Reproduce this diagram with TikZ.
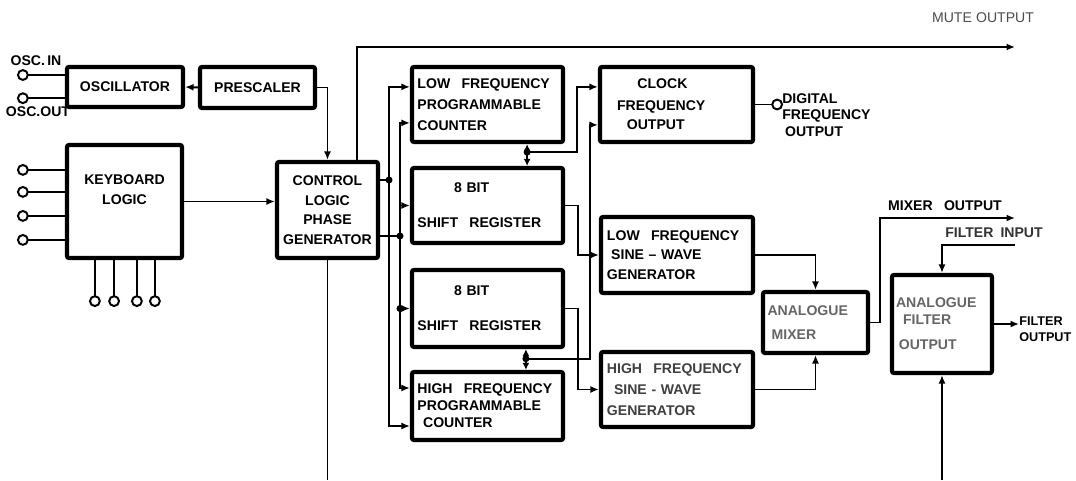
\documentclass[tikz,border=0pt]{standalone}
\usepackage{fontspec}
\setmainfont{Liberation Sans}
\usetikzlibrary{arrows.meta, positioning, calc}

\begin{document}
\begin{tikzpicture}[
  x=0.025cm, y=-0.025cm,
  box/.style={rectangle, rounded corners=1.5pt, draw=black, line width=3pt,
              fill=white, inner sep=2pt, font=\bfseries},
  wide/.style={box, minimum width=3.775cm, text width=3.5cm, align=left},
  line/.style={line width=1.4pt, black},
  arr/.style={line, -{Latex[length=6pt, width=5pt]}},
  biarr/.style={line, {Latex[length=5pt, width=5pt]}-{Latex[length=5pt, width=5pt]}},
  dot/.style={circle, fill=black, inner sep=0pt, minimum size=5pt},
  term/.style={circle, draw=black, fill=white, line width=1.4pt, inner sep=0pt, minimum size=7pt},
  lbl/.style={font=\bfseries, inner sep=0pt},
  faded/.style={text=black!60}
]
\useasboundingbox[fill=white] (0,0) rectangle (1076,480);

% input stage
\node[box, minimum width=2.9cm, minimum height=1cm] (osc) at (125,87) {OSCILLATOR};
\node[box, minimum width=2.875cm, minimum height=1.025cm] (pre) at (257.5,87.5) {PRESCALER\hspace{0.8em}};
\node[box, minimum width=2.875cm, minimum height=2.825cm] (kbd) at (124.5,201.5) {};
\node[lbl, align=center] (kbdtxt) at ([yshift=0.3cm]kbd.center) {KEYBOARD\\[2pt]LOGIC};
\node[box, minimum width=2.525cm, minimum height=2.4cm, align=center] (ctl) at (327.5,210)
  {CONTROL\\[2pt]LOGIC\\[2pt]PHASE\\[2pt]GENERATOR};

% counters and registers
\node[wide, minimum height=1.875cm] (lfc) at (487.5,104.5)
  {LOW\hspace{0.8em}FREQUENCY\\[3pt]PROGRAMMABLE\\[3pt]COUNTER};
\node[wide, minimum height=1.875cm] (sr1) at (487.5,205.5)
  {\hspace{2.6em}8 BIT\\[13pt]SHIFT\hspace{0.8em}REGISTER};
\node[wide, minimum height=1.925cm] (sr2) at (487.5,308.5)
  {\hspace{2.6em}8 BIT\\[13pt]SHIFT\hspace{0.8em}REGISTER};
\node[wide, minimum height=1.7cm] (hfc) at (487.5,406)
  {HIGH\hspace{0.8em}FREQUENCY\\PROGRAMMABLE\\\hspace{0.4em}COUNTER};

% generators
\node[wide, minimum width=3.825cm, minimum height=1.875cm] (clk) at (676.5,104.5)
  {\hspace{2.2em}CLOCK\\[3pt]\hspace{0.75em}FREQUENCY\\[2pt]\hspace{1.45em}OUTPUT};
\node[wide, minimum width=3.8cm, minimum height=1.9cm] (lfs) at (677,255)
  {LOW\hspace{0.8em}FREQUENCY\\[2pt]\hspace{0.3em}SINE -- WAVE\\[2pt]GENERATOR};
\node[wide, minimum width=3.8cm, minimum height=1.875cm, text=black!75] (hfs) at (677,389.5)
  {HIGH\hspace{0.8em}FREQUENCY\\[3pt]\hspace{0.5em}SINE - WAVE\\[3pt]GENERATOR};
\node[box, minimum width=2.625cm, minimum height=1.525cm, text width=2.4cm, align=left, faded] (mix) at (815.5,322.5)
  {ANALOGUE\\[5pt]\hspace{0.3em}MIXER};
\node[box, minimum width=2.5cm, minimum height=2.45cm, text width=2.3cm, align=left, faded] (flt) at (942,324)
  {ANALOGUE\\\hspace{0.5em}FILTER\\[6pt]\hspace{0.2em}OUTPUT\\[4pt]};

% free ends
\coordinate (mute) at (1015,47);
\coordinate (ctlbot) at (330,480);
\coordinate (fltbot) at (942,480);
\coordinate (mixout) at (1015,218);
\coordinate (fltin) at (1015,245);
\coordinate (busa) at (389,180);
\coordinate (busb) at (400,236);
\coordinate (jc1) at ([xshift=0.99cm, yshift=-0.2cm]lfc.south);
\coordinate (jc2) at ([xshift=0.96cm, yshift=-0.24cm]sr2.south);

% labels
\node[lbl] (oscinlbl) at (36,61) {OSC.\,IN};
\node[lbl] (oscoutlbl) at (38,112) {OSC.OUT};
\node[lbl, font=\normalfont, text=black!70] (mutelbl) at (983,18) {MUTE\hspace{0.3em}OUTPUT};
\node[lbl] (mixlbl) at (945,206) {MIXER\hspace{0.8em}OUTPUT};
\node[lbl, text=black!80] (finlbl) at (994,233) {FILTER\hspace{0.5em}INPUT};
\node[lbl, anchor=west, align=left, font=\bfseries\fontsize{9}{11}\selectfont] (foutlbl) at (1019,329) {FILTER\\OUTPUT};

% oscillator inputs
\draw[line] ([yshift=0.3cm]osc.west) -- ++(-42,0) node[term] (oscin) {};
\draw[line] ([yshift=-0.28cm]osc.west) -- ++(-42,0) node[term] (oscout) {};
\draw[arr] (pre.west) -- (osc.east);
\draw[arr] (pre.east) -| (ctl.north);

% keyboard terminals
\foreach \dy [count=\i] in {0.79,0.24,-0.36,-0.96}
  \draw[line] ([yshift=\dy cm]kbd.west) -- ++(-42,0) node[term] (kbi\i) {};
\foreach \dx [count=\i] in {-0.74,-0.26,0.31,0.76}
  \draw[line] ([xshift=\dx cm]kbd.south) -- ++(0,41) node[term] (kbo\i) {};
\draw[arr] (kbd.east) -- (kbd.east -| ctl.west);

% control outputs
\draw[arr] ([xshift=0.74cm]ctl.north) |- (mute);
\draw[line] (ctl.south) -- (ctl.south |- ctlbot);
\draw[line] ([yshift=0.75cm]ctl.east) -- (busa) node[dot] (dota) {};
\draw[line] ([yshift=-0.65cm]ctl.east) -- (busb) node[dot] (dotb) {};
\draw[arr] (busa) |- ([yshift=0.44cm]lfc.west);
\draw[arr] (busa) |- ([yshift=-0.5cm]hfc.west);
\draw[arr] (busb) |- ([yshift=-0.46cm]lfc.west);
\draw[arr] (busb) |- (sr1.west);
\draw[arr] (busb) |- (sr2.west) node[pos=0.5, dot] (dotc) {};
\draw[arr] (busb) |- ([yshift=0.45cm]hfc.west);

% counter/register links
\draw[biarr] ([xshift=0.99cm]lfc.south) -- ([xshift=0.99cm]sr1.north);
\draw[biarr] ([xshift=0.96cm]sr2.south) -- ([xshift=0.96cm]hfc.north);
\node[dot] (dotd) at (jc1) {};
\node[dot] (dote) at (jc2) {};
\draw[arr] (jc1) -- ++(50,0) |- ([yshift=0.44cm]clk.west);
\draw[arr] (jc2) -- ++(64,0) |- ([yshift=-0.51cm]clk.west);
\draw[arr] (sr1.east) -- ++(13,0) |- (lfs.west);
\draw[arr] (sr2.east) -- ++(13,0) |- (hfs.west);

% outputs
\draw[line] (clk.east) -- ++(22,0) node[term] (digout) {};
\node[lbl, anchor=north west, align=left] (diglbl) at (782,93) {DIGITAL\\[0pt]FREQUENCY\\[0pt]\hspace{0.2em}OUTPUT};
\draw[arr] (lfs.east) -| (mix.north);
\draw[arr] (hfs.east) -| (mix.south);
\draw[arr] (mix.east) -- ++(10,0) |- (mixout);
\draw[arr] (fltin) -| (flt.north);
\draw[arr] (flt.east) -- (flt.east -| foutlbl.west);
\draw[arr] (fltbot) -- (flt.south);
\end{tikzpicture}
\end{document}
